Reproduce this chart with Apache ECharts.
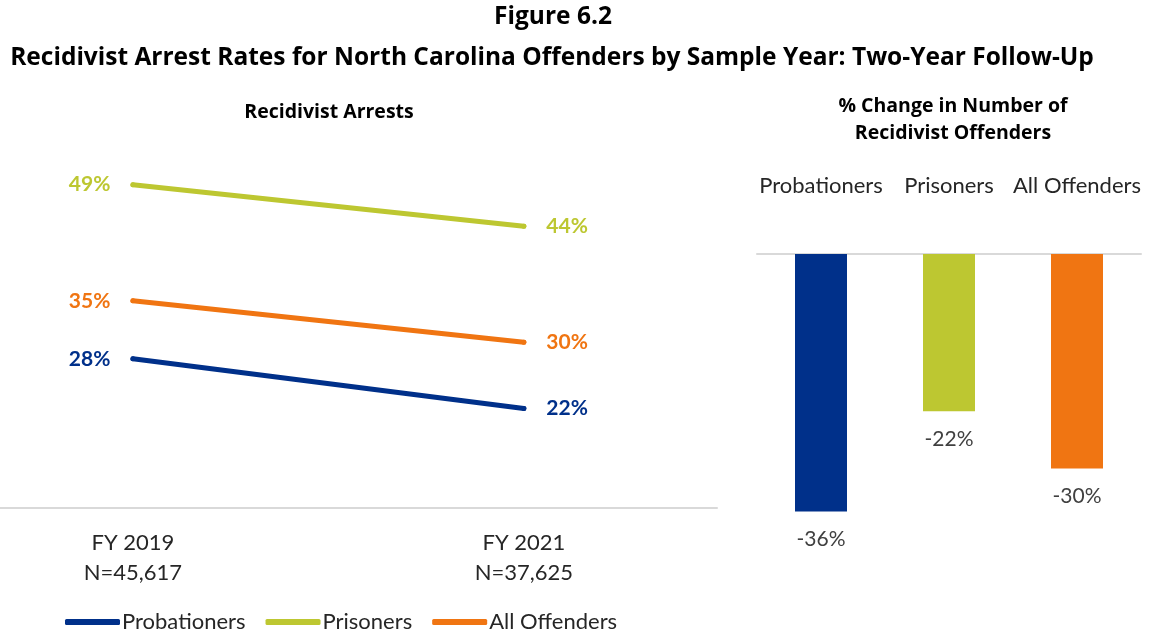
<!DOCTYPE html>
<html><head><meta charset="utf-8">
<script src="https://cdn.jsdelivr.net/npm/echarts@6/dist/echarts.min.js"></script>
<style>html,body{margin:0;padding:0;background:#fff}#c{width:1149px;height:631px}</style>
</head><body><div id="c"></div>
<script>
const years = ['FY 2019\nN=45,617', 'FY 2021\nN=37,625'];
const probationers = [28, 22];
const prisoners = [49, 44];
const allOffenders = [35, 30];
const changeCats = ['Probationers', 'Prisoners', 'All Offenders'];
const changeVals = [-36, -22, -30];

const FONT = 'Lato';
const TFONT = 'Open Sans';
const C_PROB = '#00308A', C_PRIS = '#BDC731', C_ALL = '#F07512';

function lineData(arr) {
  return arr.map((v, i) => ({ value: [i, v], label: { position: i === 0 ? 'left' : 'right' } }));
}
function lineSeries(name, arr, color) {
  return {
    name, type: 'line', xAxisIndex: 0, yAxisIndex: 0,
    data: lineData(arr), symbol: 'circle', symbolSize: 5,
    itemStyle: { color }, lineStyle: { color, width: 5, cap: 'round' },
    label: { show: true, distance: 20, color, fontFamily: FONT, fontWeight: 'bold', fontSize: 21,
      formatter: p => p.value[1] + '%' },
    emphasis: { disabled: true }, silent: true
  };
}

const chart = echarts.init(document.getElementById('c'), null, { renderer: 'canvas' });
chart.setOption({
  animation: false,
  textStyle: { fontFamily: FONT },
  title: [
    { text: 'Figure 6.2', left: 548, textAlign: 'center', top: 0, textStyle: { fontFamily: TFONT, fontWeight: 'bold', fontSize: 24.5, color: '#000' } },
    { text: 'Recidivist Arrest Rates for North Carolina Offenders by Sample Year: Two-Year Follow-Up', left: 547, textAlign: 'center', top: 41, textStyle: { fontFamily: TFONT, fontWeight: 'bold', fontSize: 24.5, color: '#000' } },
    { text: 'Recidivist Arrests', left: 324, textAlign: 'center', top: 97, textStyle: { fontFamily: TFONT, fontWeight: 'bold', fontSize: 19.5, color: '#000' } },
    { text: '% Change in Number of\nRecidivist Offenders', left: 948, textAlign: 'center', top: 88, textStyle: { fontFamily: TFONT, fontWeight: 'bold', fontSize: 19.5, lineHeight: 27, color: '#000' } }
  ],
  legend: {
    top: 606, left: 60, itemWidth: 55, itemHeight: 6, icon: 'roundRect', itemGap: 20,
    textStyle: { fontFamily: FONT, fontSize: 22, color: '#262626', padding: [0, 0, 0, -3] },
    data: ['Probationers', 'Prisoners', 'All Offenders']
  },
  grid: [
    { left: 0, width: 717, top: 135, bottom: 123 },
    { left: 757, right: 8, top: 254, bottom: 91 }
  ],
  xAxis: [
    { type: 'value', gridIndex: 0, min: -0.34, max: 1.494,
      axisLine: { show: true, onZero: false, lineStyle: { color: '#D9D9D9', width: 2 } },
      axisTick: { show: false }, splitLine: { show: false },
      axisLabel: { customValues: [0, 1], formatter: v => years[v], margin: 20, fontFamily: FONT, fontSize: 22, lineHeight: 30, color: '#262626' } },
    { type: 'category', gridIndex: 1, position: 'top', data: changeCats,
      axisLine: { show: true, lineStyle: { color: '#D9D9D9', width: 2 } },
      axisTick: { show: false },
      axisLabel: { margin: 57, fontFamily: FONT, fontSize: 22, color: '#262626', interval: 0 } }
  ],
  yAxis: [
    { type: 'value', gridIndex: 0, min: 10, max: 55, show: false },
    { type: 'value', gridIndex: 1, min: -40, max: 0, show: false }
  ],
  series: [
    lineSeries('Probationers', probationers, C_PROB),
    lineSeries('Prisoners', prisoners, C_PRIS),
    lineSeries('All Offenders', allOffenders, C_ALL),
    { type: 'bar', xAxisIndex: 1, yAxisIndex: 1, barWidth: 52,
      data: changeVals.map((v, i) => ({ value: v, itemStyle: { color: [C_PROB, C_PRIS, C_ALL][i] } })),
      label: { show: true, position: 'bottom', distance: 17, fontFamily: FONT, fontSize: 21, color: '#404040', formatter: p => p.value + '%' },
      silent: true }
  ]
});
</script></body></html>
